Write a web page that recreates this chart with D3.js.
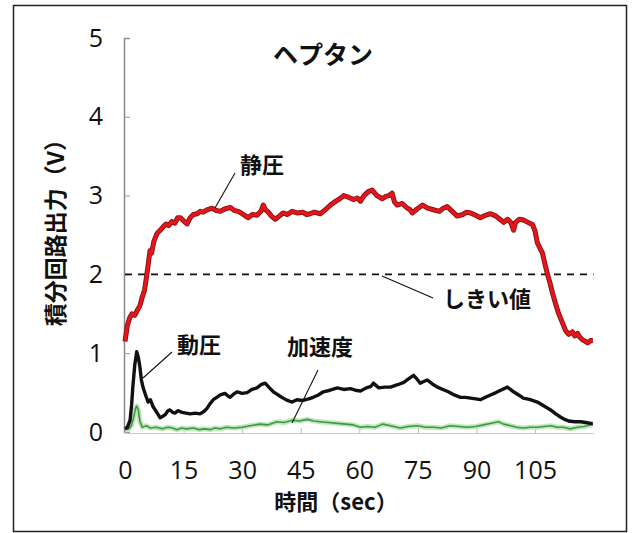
<!DOCTYPE html>
<html><head><meta charset="utf-8">
<script src="https://cdn.jsdelivr.net/npm/d3@7"></script>
<style>
body{margin:0;background:#fff;}
svg{display:block;}
</style></head><body>
<svg id="chart" width="633" height="533"></svg>
<script>
// ---- data (time in sec, output in V) ----
const staticPressure = [[0,1.15],[0.6,1.35],[1.2,1.45],[1.8,1.5],[2.5,1.48],[3.2,1.55],[3.8,1.6],[4.4,1.71],[5,1.8],[5.6,2.0],[6.0,2.15],[6.4,2.3],[6.8,2.27],[7.4,2.42],[8.2,2.52],[9,2.56],[9.7,2.6],[10.5,2.64],[11.2,2.62],[12,2.67],[12.8,2.65],[13.5,2.72],[14.2,2.72],[15,2.68],[15.9,2.64],[16.7,2.72],[17.5,2.76],[18.5,2.77],[19.3,2.8],[20,2.79],[21,2.82],[22.3,2.84],[23.4,2.81],[24.4,2.8],[25.5,2.83],[27,2.85],[28,2.81],[29,2.8],[30,2.77],[31.5,2.72],[32.6,2.76],[33.8,2.75],[34.8,2.8],[35.4,2.88],[36,2.82],[36.7,2.79],[37.5,2.74],[38.5,2.7],[39.5,2.74],[40.5,2.78],[41.5,2.76],[42.8,2.8],[44,2.78],[45.5,2.79],[46.5,2.76],[47.4,2.77],[48.5,2.79],[50,2.77],[51.3,2.82],[52.6,2.88],[54,2.93],[55,2.96],[56,3.0],[57.2,2.98],[58.5,2.95],[59.5,2.97],[60.3,2.93],[61.2,3.0],[62.3,3.05],[63.3,3.07],[64.5,3.0],[65.9,2.96],[66.8,2.99],[67.6,3.0],[68.4,3.03],[69,2.92],[69.7,2.88],[71,2.9],[72.3,2.84],[73,2.82],[73.6,2.78],[74.8,2.83],[76.2,2.88],[77.5,2.84],[79,2.82],[80.5,2.8],[81.5,2.84],[82.5,2.86],[83.8,2.8],[85,2.74],[86.5,2.76],[87.5,2.79],[88.5,2.78],[89.8,2.75],[91,2.72],[92.3,2.75],[93.6,2.77],[95,2.74],[96,2.7],[97,2.66],[98,2.7],[98.8,2.66],[99.5,2.56],[100,2.66],[101,2.7],[102,2.69],[103.2,2.66],[104.4,2.63],[105,2.55],[105.6,2.4],[106.3,2.33],[106.9,2.27],[107.6,2.12],[108.2,2.0],[108.9,1.88],[109.5,1.76],[110.3,1.62],[111,1.51],[111.9,1.4],[112.8,1.29],[113.6,1.24],[114.6,1.27],[115.2,1.22],[115.9,1.25],[116.5,1.2],[117.2,1.17],[117.9,1.15],[118.5,1.13],[119.2,1.16],[119.8,1.16]];

const dynamicPressure = [[0,0.04],[0.6,0.06],[1.3,0.15],[1.7,0.35],[2.0,0.57],[2.5,0.85],[3.0,1.02],[3.4,0.95],[3.8,0.83],[4.2,0.66],[4.6,0.57],[5.2,0.48],[5.9,0.38],[6.5,0.41],[7.2,0.32],[8.0,0.26],[8.5,0.22],[9,0.18],[9.7,0.2],[10.3,0.22],[11,0.27],[11.5,0.28],[12.2,0.25],[12.8,0.24],[13.6,0.27],[14.6,0.25],[15.6,0.24],[16.7,0.23],[18,0.24],[19.2,0.23],[20.2,0.26],[21,0.3],[21.8,0.36],[22.6,0.41],[23.5,0.44],[24.4,0.47],[25.6,0.49],[26.3,0.46],[26.9,0.44],[27.8,0.48],[28.7,0.51],[30,0.49],[31.3,0.5],[32.5,0.54],[33.8,0.56],[34.8,0.6],[35.9,0.62],[37,0.56],[38,0.51],[39.2,0.47],[40.5,0.43],[41.6,0.4],[42.8,0.38],[44,0.41],[45.6,0.4],[47,0.42],[48.2,0.44],[49.5,0.47],[50.8,0.51],[52.5,0.53],[54.4,0.56],[56,0.54],[57.7,0.55],[59,0.53],[60.3,0.52],[61.8,0.56],[63,0.58],[63.6,0.62],[65,0.56],[66.5,0.57],[68,0.57],[69.8,0.6],[71.4,0.63],[72.5,0.67],[73.9,0.72],[74.8,0.67],[75.6,0.62],[76.5,0.64],[77.4,0.66],[78.7,0.61],[80,0.57],[81.4,0.54],[82.8,0.51],[84.3,0.47],[85.9,0.44],[87.2,0.44],[88.5,0.43],[89.8,0.42],[91,0.41],[92.3,0.44],[93.6,0.47],[95,0.5],[96.2,0.53],[97.1,0.55],[97.9,0.57],[98.7,0.54],[99.5,0.51],[100.8,0.47],[102,0.43],[103.8,0.41],[105.6,0.38],[107.3,0.33],[109,0.28],[110.3,0.23],[111.5,0.19],[112.6,0.16],[113.6,0.14],[115.2,0.13],[116.7,0.13],[118,0.12],[119.2,0.11],[119.8,0.11]];

const acceleration = [[0,0.03],[1,0.04],[1.6,0.08],[2.2,0.18],[2.7,0.3],[3.0,0.33],[3.4,0.28],[3.8,0.14],[4.4,0.06],[5.5,0.08],[6.5,0.05],[8,0.06],[9.5,0.04],[11,0.06],[12.2,0.05],[13.3,0.03],[14.5,0.05],[15.8,0.04],[17.5,0.05],[19,0.03],[20.4,0.04],[21.8,0.03],[23,0.05],[24.5,0.04],[26,0.06],[27.8,0.05],[30,0.06],[32,0.08],[34.6,0.1],[36.5,0.09],[38.9,0.13],[40.8,0.12],[42.8,0.15],[44.6,0.14],[46.7,0.16],[48.3,0.14],[50,0.13],[52,0.12],[54.4,0.11],[56.5,0.1],[58.5,0.09],[60.3,0.06],[62,0.07],[64,0.06],[66,0.1],[68,0.08],[70.5,0.05],[72.5,0.07],[74.9,0.08],[77,0.06],[79,0.06],[81,0.05],[83.3,0.08],[85.5,0.07],[87.7,0.06],[89.8,0.07],[91.8,0.09],[93.8,0.11],[95.6,0.13],[97,0.1],[98.7,0.08],[100.3,0.06],[102,0.05],[103.8,0.06],[105.6,0.06],[107.3,0.07],[109,0.08],[110.7,0.06],[112.3,0.06],[114,0.04],[115.9,0.06],[117.5,0.07],[119.2,0.09],[119.8,0.09]];

const thresholdValue = 2;
const xTickValues = [0, 15, 30, 45, 60, 75, 90, 105];
const yTickValues = [0, 1, 2, 3, 4, 5];
const chartTitle = "ヘプタン";
const xTitle = "時間（sec）";
const yTitle = "積分回路出力（V）";
const seriesLabels = ["静圧", "動圧", "加速度", "しきい値"];

// ---- layout ----
const svg = d3.select("#chart");
const x = d3.scaleLinear().domain([0, 120]).range([125, 593.6]);
const y = d3.scaleLinear().domain([0, 5]).range([432, 38]);
const numFont = "'Open Sans','Liberation Sans',sans-serif";
const jpFont = "'Noto Sans CJK JP','Noto Sans',sans-serif";

// frame
svg.append("rect").attr("x", 13.5).attr("y", 5.5).attr("width", 613).attr("height", 526)
  .attr("fill", "none").attr("stroke", "#222").attr("stroke-width", 1.5);

// axes
const yAxis = svg.append("g").attr("transform", `translate(${x(0) - 1},0)`)
  .call(d3.axisLeft(y).tickValues(yTickValues).tickSize(-6).tickPadding(21).tickFormat(d3.format("d")));
yAxis.select(".domain").attr("stroke", "#888").attr("stroke-width", 1.5);
yAxis.selectAll(".tick line").attr("stroke", "#999");
yAxis.selectAll("text").attr("font-family", numFont).attr("font-size", 25).attr("fill", "#111");

const xAxis = svg.append("g").attr("transform", `translate(0,${y(0) + 1})`)
  .call(d3.axisBottom(x).tickValues(xTickValues).tickSize(-5).tickPadding(28).tickSizeOuter(0));
xAxis.select(".domain").attr("stroke", "#ccc");
xAxis.selectAll(".tick line").attr("stroke", "#bbb");
xAxis.selectAll("text").attr("font-family", numFont).attr("font-size", 25).attr("fill", "#111");

// threshold line
svg.append("line").attr("x1", x(0)).attr("x2", x(120))
  .attr("y1", y(thresholdValue)).attr("y2", y(thresholdValue))
  .attr("stroke", "#111").attr("stroke-width", 1.6).attr("stroke-dasharray", "7,6");

const line = d3.line().x(d => x(d[0])).y(d => y(d[1]));

// acceleration (green with halo)
svg.append("path").datum(acceleration).attr("d", line).attr("fill", "none")
  .attr("stroke", "#c2e6bb").attr("stroke-width", 5).attr("stroke-linejoin", "round");
svg.append("path").datum(acceleration).attr("d", line).attr("fill", "none")
  .attr("stroke", "#3c9a44").attr("stroke-width", 1.6).attr("stroke-linejoin", "round");

// dynamic pressure (black)
svg.append("path").datum(dynamicPressure).attr("d", line).attr("fill", "none")
  .attr("stroke", "#111").attr("stroke-width", 3.4).attr("stroke-linejoin", "round");

// static pressure (red)
svg.append("path").datum(staticPressure).attr("d", line).attr("fill", "none")
  .attr("stroke", "#8c1010").attr("stroke-width", 5).attr("stroke-linejoin", "round");
svg.append("path").datum(staticPressure).attr("d", line).attr("fill", "none")
  .attr("stroke", "#e3161b").attr("stroke-width", 3.2).attr("stroke-linejoin", "round");

// titles
svg.append("text").attr("x", 323).attr("y", 64).attr("text-anchor", "middle")
  .attr("font-family", jpFont).attr("font-weight", 700).attr("font-size", 25).attr("fill", "#111")
  .text(chartTitle);
svg.append("text").attr("x", 336).attr("y", 510).attr("text-anchor", "middle")
  .attr("font-family", jpFont).attr("font-weight", 700).attr("font-size", 22).attr("fill", "#111")
  .text(xTitle);
svg.append("text").attr("transform", "translate(64,227) rotate(-90)").attr("text-anchor", "middle")
  .attr("font-family", jpFont).attr("font-weight", 700).attr("font-size", 23).attr("fill", "#111")
  .text(yTitle);

// annotations
const notes = [
  {t: seriesLabels[0], tx: 262, ty: 173, x1: 215, y1: 208, x2: 235, y2: 173},
  {t: seriesLabels[1], tx: 199, ty: 353, x1: 143, y1: 378, x2: 172, y2: 352},
  {t: seriesLabels[2], tx: 320, ty: 355, x1: 318, y1: 370, x2: 292, y2: 423},
  {t: seriesLabels[3], tx: 487, ty: 307, x1: 382, y1: 276, x2: 433, y2: 298}
];
notes.forEach(n => {
  svg.append("line").attr("x1", n.x1).attr("y1", n.y1).attr("x2", n.x2).attr("y2", n.y2)
    .attr("stroke", "#111").attr("stroke-width", 1.1);
  svg.append("text").attr("x", n.tx).attr("y", n.ty).attr("text-anchor", "middle")
    .attr("font-family", jpFont).attr("font-weight", 700).attr("font-size", 22).attr("fill", "#111")
    .text(n.t);
});
</script>
</body></html>
